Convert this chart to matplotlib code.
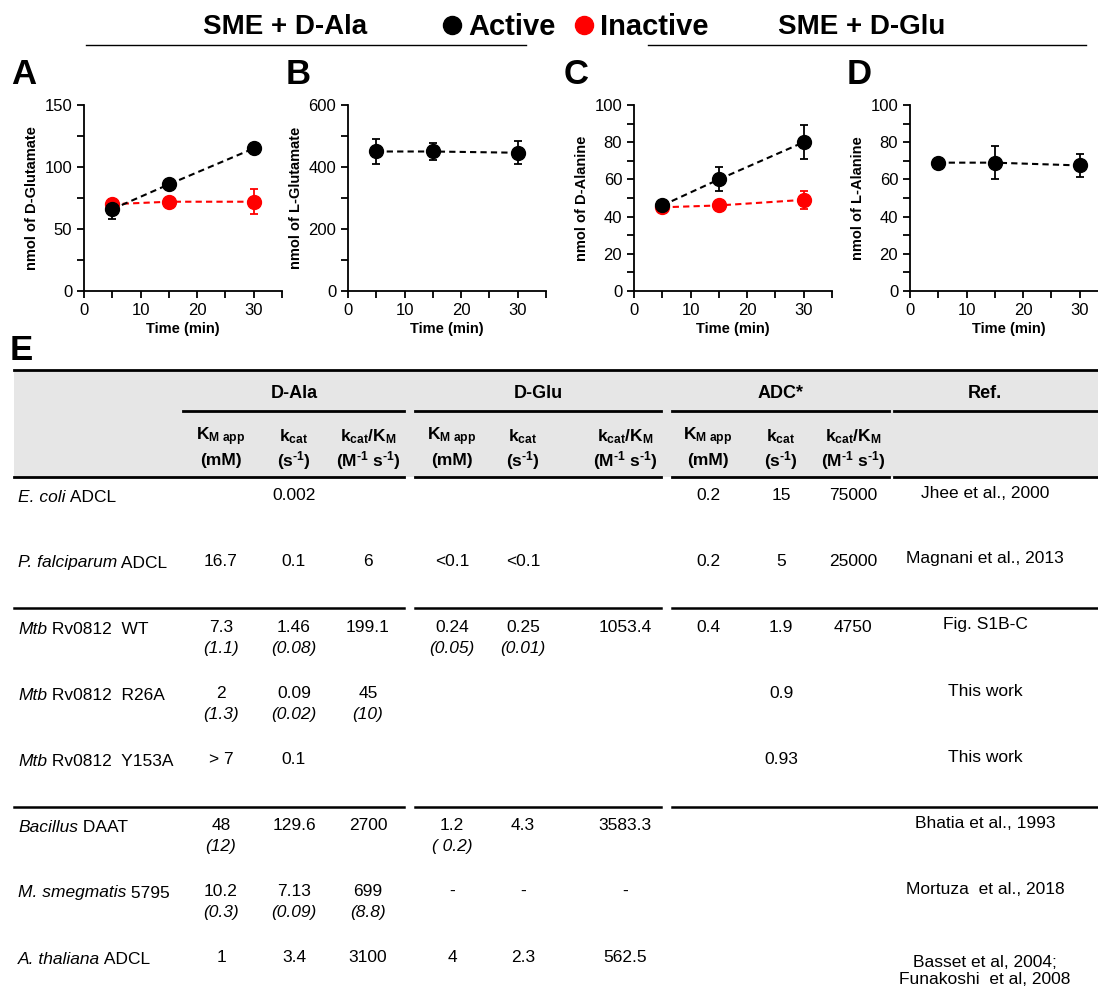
import matplotlib
matplotlib.use('Agg')
import matplotlib.pyplot as plt
from matplotlib.lines import Line2D
from matplotlib.patches import Rectangle
from matplotlib.ticker import MultipleLocator

plt.rcParams['font.family'] = ['Liberation Sans', 'DejaVu Sans']
plt.rcParams['mathtext.fontset'] = 'custom'
plt.rcParams['mathtext.rm'] = 'Liberation Sans'
plt.rcParams['mathtext.it'] = 'Liberation Sans:italic'
plt.rcParams['mathtext.bf'] = 'Liberation Sans:bold'

# ---- panel data (nmol vs time) ----
time = [5, 15, 30]

a_active = [66, 86, 115]
a_active_err = [8, 2, 3]
a_inactive = [70, 72, 72]
a_inactive_err = [1, 2, 10]

b_active = [450, 450, 446]
b_active_err = [40, 27, 37]

c_active = [46, 60, 80]
c_active_err = [1.5, 6.5, 9]
c_inactive = [45, 46, 49]
c_inactive_err = [1, 1, 5]

d_active = [69, 69, 67.5]
d_active_err = [1, 9, 6.3]

# ---- table data ----
row_italic = ["E. coli", "P. falciparum", "Mtb", "Mtb", "Mtb", "Bacillus",
              "M. smegmatis", "A. thaliana"]
row_plain = [" ADCL", " ADCL", " Rv0812  WT", " Rv0812  R26A", " Rv0812  Y153A",
             " DAAT", " 5795", " ADCL"]
dala_vals = [["", "0.002", ""], ["16.7", "0.1", "6"], ["7.3", "1.46", "199.1"],
             ["2", "0.09", "45"], ["> 7", "0.1", ""], ["48", "129.6", "2700"],
             ["10.2", "7.13", "699"], ["1", "3.4", "3100"]]
dala_err = [["", "", ""], ["", "", ""], ["(1.1)", "(0.08)", ""],
            ["(1.3)", "(0.02)", "(10)"], ["", "", ""], ["(12)", "", ""],
            ["(0.3)", "(0.09)", "(8.8)"], ["", "", ""]]
dglu_vals = [["", "", ""], ["<0.1", "<0.1", ""], ["0.24", "0.25", "1053.4"],
             ["", "", ""], ["", "", ""], ["1.2", "4.3", "3583.3"],
             ["-", "-", "-"], ["4", "2.3", "562.5"]]
dglu_err = [["", "", ""], ["", "", ""], ["(0.05)", "(0.01)", ""],
            ["", "", ""], ["", "", ""], ["( 0.2)", "", ""],
            ["", "", ""], ["", "", ""]]
adc_vals = [["0.2", "15", "75000"], ["0.2", "5", "25000"], ["0.4", "1.9", "4750"],
            ["", "0.9", ""], ["", "0.93", ""], ["", "", ""], ["", "", ""], ["", "", ""]]
refs = ["Jhee et al., 2000", "Magnani et al., 2013", "Fig. S1B-C", "This work",
        "This work", "Bhatia et al., 1993", "Mortuza  et al., 2018",
        "Basset et al, 2004;\nFunakoshi  et al, 2008"]
group_names = ["D-Ala", "D-Glu", "ADC*", "Ref."]
sub_top = [r"K$_{\mathbf{M\ app}}$", r"k$_{\mathbf{cat}}$", r"k$_{\mathbf{cat}}$/K$_{\mathbf{M}}$"]
sub_bot = ["(mM)", "(s$^{\\mathbf{\u20101}}$)", "(M$^{\\mathbf{\u20101}}$ s$^{\\mathbf{\u20101}}$)"]

fig = plt.figure(figsize=(10.98, 10), dpi=100)
AX_W = 198
AX_TOP = 105
AX_H = 186


def panel(left, ylabel, ymax, ymajor, yminor):
    ax = fig.add_axes([left / 1098, 1 - (AX_TOP + AX_H) / 1000, AX_W / 1098, AX_H / 1000])
    ax.set_xlim(0, 35)
    ax.set_ylim(0, ymax)
    ax.xaxis.set_major_locator(MultipleLocator(10))
    ax.xaxis.set_minor_locator(MultipleLocator(5))
    ax.yaxis.set_major_locator(MultipleLocator(ymajor))
    ax.yaxis.set_minor_locator(MultipleLocator(yminor))
    for s in ['top', 'right']:
        ax.spines[s].set_visible(False)
    for s in ['left', 'bottom']:
        ax.spines[s].set_linewidth(1.3)
    ax.tick_params(which='both', length=5, width=1.3, labelsize=12)
    ax.set_xlabel('Time (min)', fontsize=10.5, fontweight='bold', labelpad=3)
    ax.set_ylabel(ylabel, fontsize=10.5, fontweight='bold')
    return ax


def series(ax, y, err, color):
    ax.errorbar(time, y, yerr=err, fmt='o', linestyle=(0, (3, 2)), color=color,
                ms=10, lw=1.5, elinewidth=1.3, capsize=3, capthick=1.3, clip_on=False)


axA = panel(84, 'nmol of D-Glutamate', 150, 50, 25)
series(axA, a_inactive, a_inactive_err, 'red')
series(axA, a_active, a_active_err, 'black')

axB = panel(348, 'nmol of L-Glutamate', 600, 200, 100)
series(axB, b_active, b_active_err, 'black')

axC = panel(634, 'nmol of D-Alanine', 100, 20, 10)
series(axC, c_inactive, c_inactive_err, 'red')
series(axC, c_active, c_active_err, 'black')

axD = panel(910, 'nmol of L-Alanine', 100, 20, 10)
series(axD, d_active, d_active_err, 'black')

# overlay in pixel coordinates for titles and the table
ov = fig.add_axes([0, 0, 1, 1])
ov.set_xlim(0, 1098)
ov.set_ylim(1000, 0)
ov.axis('off')

ov.text(285, 27, 'SME + D-Ala', fontsize=20, fontweight='bold', ha='center', va='center')
ov.plot([86, 526], [45, 45], color='black', lw=1)
ov.text(862, 27, 'SME + D-Glu', fontsize=20, fontweight='bold', ha='center', va='center')
ov.plot([648, 1086], [45, 45], color='black', lw=1)

handles = [Line2D([], [], marker='o', color='black', ls='none', ms=13),
           Line2D([], [], marker='o', color='red', ls='none', ms=13)]
fig.legend(handles, ['Active', 'Inactive'], loc='center', bbox_to_anchor=(576 / 1098, 1 - 27 / 1000),
           ncol=2, frameon=False, handletextpad=0.25, columnspacing=0.7, handlelength=0.6,
           borderpad=0, prop={'size': 21, 'weight': 'bold'})

for lx, letter in zip([11, 286, 564, 847], 'ABCD'):
    ov.text(lx, 74, letter, fontsize=25, fontweight='bold', ha='left', va='center')
ov.text(10, 350, 'E', fontsize=25, fontweight='bold', ha='left', va='center')

# ---- table ----
FS = 12.5
ov.add_patch(Rectangle((14, 370), 1098 - 14, 477 - 370, color='#e6e6e6', lw=0))
ov.plot([14, 1098], [370, 370], color='black', lw=2)

col_x = [[221, 294, 368], [452, 523, 625], [708, 781, 853]]
ref_x = 985
group_center = [294, 538, 781, ref_x]
group_lines = [(183, 404), (415, 661), (672, 889), (894, 1098)]
for name, cx, (x0, x1) in zip(group_names, group_center, group_lines):
    ov.text(cx, 394, name, fontsize=13, fontweight='bold', ha='center', va='center')
    ov.plot([x0, x1], [411, 411], color='black', lw=2)

for cols in col_x:
    for cx, t1, t2 in zip(cols, sub_top, sub_bot):
        ov.text(cx, 437, t1, fontsize=FS, fontweight='bold', ha='center', va='center')
        ov.text(cx, 461, t2, fontsize=FS, fontweight='bold', ha='center', va='center')

for x0, x1 in [(14, 404), (415, 661), (672, 889), (894, 1098)]:
    ov.plot([x0, x1], [477, 477], color='black', lw=2)
for ys in [608, 807]:
    for x0, x1 in [(14, 404), (415, 661), (672, 1098)]:
        ov.plot([x0, x1], [ys, ys], color='black', lw=1.8)

for i in range(len(row_italic)):
    y = 497 + 66 * i
    t = ov.text(18, y, row_italic[i], fontsize=FS, style='italic', ha='left', va='center')
    ov.annotate(row_plain[i], xy=(1, 0), xycoords=t, fontsize=FS, ha='left', va='bottom')
    for cols, vals, errs in [(col_x[0], dala_vals[i], dala_err[i]),
                             (col_x[1], dglu_vals[i], dglu_err[i]),
                             (col_x[2], adc_vals[i], ["", "", ""])]:
        for cx, v, e in zip(cols, vals, errs):
            if v:
                ov.text(cx, y - 2, v, fontsize=FS, ha='center', va='center')
            if e:
                ov.text(cx, y + 20, e, fontsize=FS, style='italic', ha='center', va='center')
    ov.text(ref_x, y - 4, refs[i], fontsize=FS, ha='center',
            va='top' if '\n' in refs[i] else 'center', linespacing=1.2)

fig.savefig('out.png', dpi=100)
